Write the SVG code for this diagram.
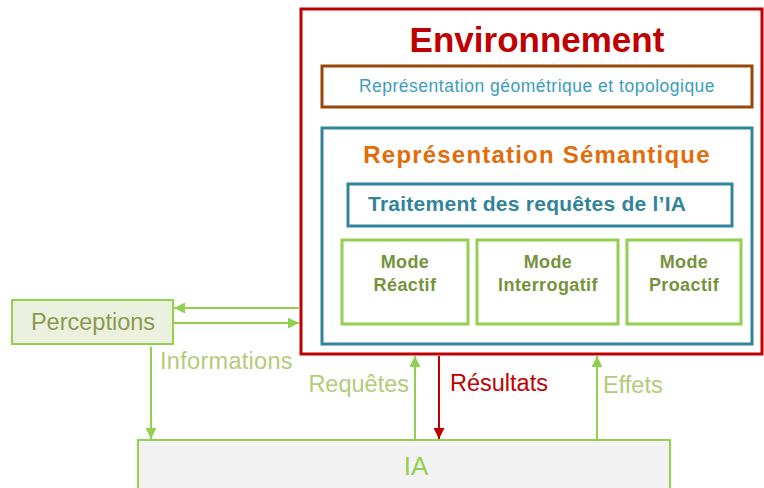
<svg xmlns="http://www.w3.org/2000/svg" width="764" height="488" viewBox="0 0 764 488">
<defs>
<style>
text{font-family:"Liberation Sans",Arial,sans-serif}
.mode{fill:#fff;stroke:#92D050;stroke-width:3}
.mt{fill:#76923C;font-size:18px;font-weight:bold;text-anchor:middle;letter-spacing:0.4px}
.g{stroke:#92D050;stroke-width:2;fill:none}
.lbl{fill:#B2CB78;font-size:23.5px}
</style>
<marker id="ag" viewBox="0 0 10 10" refX="10" refY="5" markerWidth="5.5" markerHeight="5.5" orient="auto" markerUnits="strokeWidth"><path d="M0,0 L10,5 L0,10 z" fill="#92D050"/></marker>
<marker id="ar" viewBox="0 0 10 10" refX="10" refY="5" markerWidth="5.5" markerHeight="5.5" orient="auto" markerUnits="strokeWidth"><path d="M0,0 L10,5 L0,10 z" fill="#C00000"/></marker>
</defs>
<rect width="764" height="488" fill="#fff"/>
<g id="environnement">
<rect x="301" y="9" width="461" height="345" fill="#fff" stroke="#C00000" stroke-width="3"/>
<text x="537" y="52" text-anchor="middle" font-size="35" font-weight="bold" fill="#C00000">Environnement</text>
</g>
<g id="geo">
<rect x="322" y="66" width="430" height="41" fill="#fff" stroke="#974706" stroke-width="3"/>
<text x="537" y="92" text-anchor="middle" font-size="17.5" letter-spacing="0.5" fill="#3C9CBE">Représentation géométrique et topologique</text>
</g>
<g id="semantique">
<rect x="322" y="128" width="430" height="216" fill="#fff" stroke="#31849B" stroke-width="3"/>
<text x="537" y="163" text-anchor="middle" font-size="24" font-weight="bold" letter-spacing="1.2" fill="#E36C09">Représentation Sémantique</text>
</g>
<g id="traitement">
<rect x="348" y="184" width="384" height="42" fill="#fff" stroke="#31849B" stroke-width="3"/>
<text x="368" y="211" font-size="21" font-weight="bold" letter-spacing="0.25" fill="#31849B">Traitement des requêtes de l’IA</text>
</g>
<g id="reactif">
<rect class="mode" x="342" y="240" width="126" height="84"/>
<text class="mt" x="405" y="268">Mode</text><text class="mt" x="405" y="291">Réactif</text>
</g>
<g id="interrogatif">
<rect class="mode" x="477" y="240" width="141" height="84"/>
<text class="mt" x="548" y="268">Mode</text><text class="mt" x="548" y="291">Interrogatif</text>
</g>
<g id="proactif">
<rect class="mode" x="627" y="240" width="114" height="84"/>
<text class="mt" x="684" y="268">Mode</text><text class="mt" x="684" y="291">Proactif</text>
</g>
<g id="perceptions">
<rect x="12" y="300" width="161" height="44" fill="#EBF1DE" stroke="#92D050" stroke-width="2"/>
<text x="93" y="330" text-anchor="middle" font-size="23.5" fill="#8A9A50">Perceptions</text>
</g>
<g id="ia">
<rect x="138" y="440" width="532" height="60" fill="#F2F2F2" stroke="#92D050" stroke-width="2"/>
<text x="416" y="475" text-anchor="middle" font-size="26" fill="#92D050">IA</text>
</g>
<g id="connectors">
<line class="g" x1="300" y1="308" x2="174" y2="308" marker-end="url(#ag)"/>
<line class="g" x1="173" y1="323" x2="299" y2="323" marker-end="url(#ag)"/>
<line class="g" x1="151" y1="347" x2="151" y2="439" marker-end="url(#ag)"/>
<line class="g" x1="415" y1="440" x2="415" y2="356" marker-end="url(#ag)"/>
<line x1="439" y1="356" x2="439" y2="439" stroke="#C00000" stroke-width="2" marker-end="url(#ar)"/>
<line class="g" x1="597" y1="440" x2="597" y2="356" marker-end="url(#ag)"/>
<text class="lbl" x="160" y="369" letter-spacing="0.3">Informations</text>
<text class="lbl" x="409" y="392" text-anchor="end">Requêtes</text>
<text x="450" y="391" font-size="23.5" fill="#C00000">Résultats</text>
<text class="lbl" x="603" y="393">Effets</text>
</g>
</svg>
